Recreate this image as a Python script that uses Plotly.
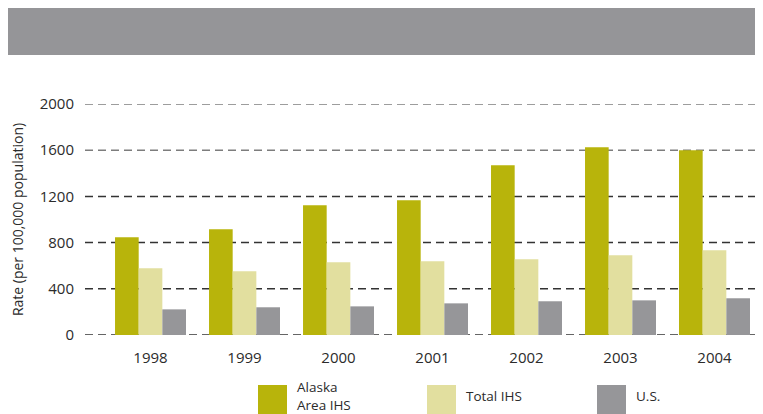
import plotly.graph_objects as go

years = ["1998", "1999", "2000", "2001", "2002", "2003", "2004"]
alaska = [846, 915, 1123, 1167, 1470, 1626, 1600]
total_ihs = [578, 552, 630, 638, 656, 690, 734]
us = [222, 240, 248, 274, 292, 300, 318]

series_names = ["Alaska<br>Area IHS", "Total IHS", "U.S."]
series_colors = ["#b8b40b", "#e2df9f", "#969699"]
y_ticks = [0, 400, 800, 1200, 1600, 2000]

# page body has an 8px margin, so the figure is drawn 8px smaller / shifted
OFF = 8
PLOT_L, PLOT_T, PLOT_B, PLOT_W, PLOT_H = 85, 104, 335, 678, 231
TEXT = "#2b2b2b"


def px_x(px):
    return (px - PLOT_L) / PLOT_W


def px_y(py):
    return (PLOT_B - py) / PLOT_H


fig = go.Figure()
for name, vals, color in zip(series_names, [alaska, total_ihs, us], series_colors):
    fig.add_trace(go.Bar(x=years, y=vals, name=name, marker=dict(color=color, line=dict(width=0)),
                         showlegend=False))

# dashed gridlines (lighter at the top)
for t in y_ticks:
    fig.add_shape(type="line", xref="paper", yref="y", x0=0, x1=1, y0=t, y1=t, layer="below",
                  line=dict(color="#7d7d7d" if t >= 1600 else "#333333", width=1.5, dash="8px,5px"))

# grey header band
fig.add_shape(type="rect", xref="paper", yref="paper", x0=px_x(5), x1=1.0, y0=px_y(55), y1=px_y(7),
              fillcolor="#959598", line=dict(width=0), layer="below")

# custom legend with large swatches
legend_x = [258, 427, 597]
for name, color, lx in zip(series_names, series_colors, legend_x):
    fig.add_shape(type="rect", xref="paper", yref="paper", x0=px_x(lx), x1=px_x(lx + 29),
                  y0=px_y(385), y1=px_y(416), fillcolor=color, line=dict(width=0))
    fig.add_annotation(xref="paper", yref="paper", x=px_x(lx + 38), y=px_y(396),
                       text=name, showarrow=False, xanchor="left", yanchor="middle", align="left",
                       borderpad=0, font=dict(size=13.5, color=TEXT, family="Open Sans"))

fig.update_layout(
    width=763 - OFF, height=414 - OFF,
    margin=dict(l=PLOT_L - OFF, r=0, t=PLOT_T - OFF, b=414 - PLOT_B),
    paper_bgcolor="white", plot_bgcolor="white",
    barmode="group", bargap=0.245, bargroupgap=0,
    font=dict(family="Open Sans", size=15, color=TEXT),
    xaxis=dict(type="category", range=[-0.697, 6.516], showgrid=False, showline=False,
               ticks="", ticklabelstandoff=12, tickfont=dict(size=15, color=TEXT)),
    yaxis=dict(range=[0, 2000], tickvals=y_ticks, showgrid=False, zeroline=False, showline=False,
               ticks="", ticklabelstandoff=10, tickfont=dict(size=15, color=TEXT),
               title=dict(text="Rate (per 100,000 population)", standoff=12,
                          font=dict(size=14, color=TEXT))),
)

fig.write_html("out.html")
